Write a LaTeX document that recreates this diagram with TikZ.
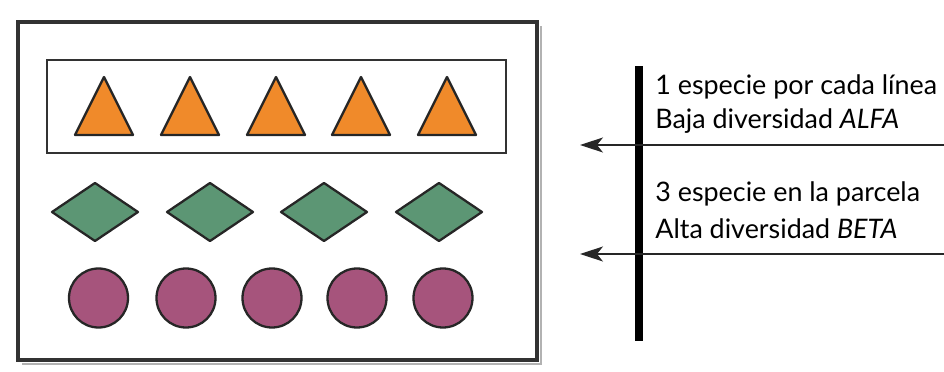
\documentclass[tikz,border=0pt]{standalone}
\usepackage{tikz}
\usepackage{xcolor}
\usepackage{fontspec}
\setmainfont{Lato}
\usetikzlibrary{arrows.meta}

\definecolor{tricolor}{RGB}{240,138,42}
\definecolor{diacolor}{RGB}{92,150,116}
\definecolor{circolor}{RGB}{166,84,124}
\definecolor{framegray}{RGB}{50,50,50}

\begin{document}
\begin{tikzpicture}[x=0.02cm,y=-0.02cm]
\tikzstyle{every node}+=[inner sep=0pt]
\tikzstyle{tri}=[draw=black!85,fill=tricolor,line width=1.3pt,line join=round]
\tikzstyle{dia}=[draw=black!85,fill=diacolor,line width=1.3pt,line join=round]
\tikzstyle{cir}=[draw=black!85,fill=circolor,line width=1.3pt]
\tikzstyle{txt}=[anchor=west,font=\fontsize{15.3}{17}\selectfont]
\useasboundingbox (0,0) rectangle (944,372);
% plot frame with its shadow
\draw [black!30,line width=1.4pt] (541,26) -- (541,364) -- (22,364);
\draw [framegray,line width=2pt] (18,22) rectangle (537,360);
% one line of the plot
\draw [framegray,line width=1.3pt] (47,60) rectangle (506,153);
% triangles
\draw [tri] (104,77) -- (133,135) -- (75,135) -- cycle;
\draw [tri] (190,77) -- (219,135) -- (161,135) -- cycle;
\draw [tri] (276,77) -- (305,135) -- (247,135) -- cycle;
\draw [tri] (361,77) -- (390,135) -- (332,135) -- cycle;
\draw [tri] (447,77) -- (476,135) -- (418,135) -- cycle;
% diamonds
\draw [dia] (95,183) -- (138,212) -- (95,241) -- (52,212) -- cycle;
\draw [dia] (210,183) -- (253,212) -- (210,241) -- (167,212) -- cycle;
\draw [dia] (324,183) -- (367,212) -- (324,241) -- (281,212) -- cycle;
\draw [dia] (439,183) -- (482,212) -- (439,241) -- (396,212) -- cycle;
% circles
\draw [cir] (98.5,298) circle (29.5);
\draw [cir] (186,298) circle (29.5);
\draw [cir] (272,298) circle (29.5);
\draw [cir] (357,298) circle (29.5);
\draw [cir] (443,298) circle (29.5);
% legend bar
\coordinate (bartop) at (639,66);
\coordinate (barbot) at (639,341);
\draw [black,line width=4.2pt] (bartop) -- (barbot);
% legend texts
\node [txt] (alfa1) at (655,87) {1 especie por cada línea};
\node [txt] (alfa2) at (655,121) {Baja diversidad \textit{ALFA}};
\node [txt] (beta1) at (655,194) {3 especie en la parcela};
\node [txt] (beta2) at (655,229) {Alta diversidad \textit{BETA}};
% arrows
\coordinate (alfaend) at (944,145);
\coordinate (alfatip) at (580,145);
\coordinate (betaend) at (944,254);
\coordinate (betatip) at (580,254);
\draw [black!85,line width=0.7pt,-{Stealth[length=0.46cm,width=0.3cm,inset=0.12cm]}] (alfaend) -- (alfatip);
\draw [black!85,line width=0.7pt,-{Stealth[length=0.46cm,width=0.3cm,inset=0.12cm]}] (betaend) -- (betatip);
\end{tikzpicture}
\end{document}
